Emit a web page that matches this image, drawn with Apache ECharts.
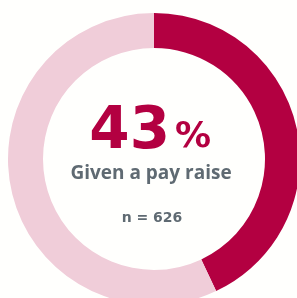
<!DOCTYPE html>
<html>
<head>
<meta charset="utf-8">
<script src="https://cdn.jsdelivr.net/npm/echarts@6/dist/echarts.min.js"></script>
<style>
  html, body { margin: 0; padding: 0; background: #fffffd; }
  #chart { width: 297px; height: 298px; }
</style>
</head>
<body>
<div id="chart"></div>
<script>
// chart data
const categories = ['Given a pay raise', 'Not given a pay raise'];
const values = [43, 57];
const sampleSize = 626;

const colors = ['#b30041', '#f0cdd9'];
const grey = '#5f6a72';

const chart = echarts.init(document.getElementById('chart'));

const option = {
  backgroundColor: '#fffffd',
  animation: false,
  graphic: [
    {
      type: 'text',
      x: 170,
      y: 133,
      style: {
        text: String(values[0]),
        fill: colors[0],
        font: 'bold 58px "DejaVu Sans"',
        align: 'right',
        verticalAlign: 'middle',
      },
    },
    {
      type: 'text',
      x: 175,
      y: 138,
      style: {
        text: '%',
        fill: colors[0],
        font: 'bold 36px "DejaVu Sans"',
        align: 'left',
        verticalAlign: 'middle',
      },
    },
    {
      type: 'text',
      x: 151,
      y: 174,
      style: {
        text: categories[0],
        fill: grey,
        font: 'bold 19px "Open Sans"',
        align: 'center',
        verticalAlign: 'middle',
      },
    },
    {
      type: 'text',
      x: 152,
      y: 218,
      style: {
        text: 'n = ' + sampleSize,
        fill: grey,
        font: 'bold 14px "DejaVu Sans"',
        align: 'center',
        verticalAlign: 'middle',
      },
    },
  ],
  series: [
    {
      type: 'pie',
      center: [154, 159],
      radius: [111, 146],
      startAngle: 90,
      clockwise: true,
      silent: true,
      label: { show: false },
      labelLine: { show: false },
      data: categories.map((name, i) => ({
        name,
        value: values[i],
        itemStyle: { color: colors[i] },
      })),
    },
  ],
};

chart.setOption(option);
</script>
</body>
</html>
